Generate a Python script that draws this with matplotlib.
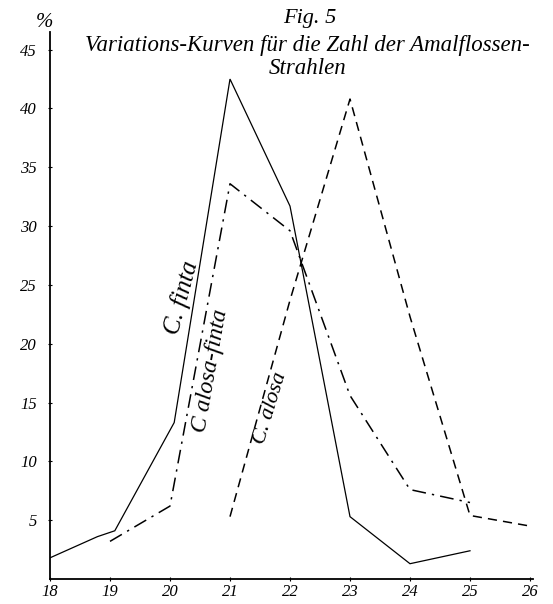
#!/usr/bin/env python3
# -*- coding: utf-8 -*-
# Fig. 5: Variations-Kurven fuer die Zahl der Analflossen-Strahlen

import matplotlib
matplotlib.use("Agg")
import matplotlib.pyplot as plt

# Strahlenzahl (x) und Prozent (y)
finta_x = [18, 18.79, 19.08, 20.07, 20.93, 21, 22, 23, 24, 25]
finta_y = [1.8, 3.6, 4.1, 13.3, 40.3, 42.5, 31.7, 5.3, 1.3, 2.4]

alosa_finta_x = [19, 20, 21, 22, 23, 24, 25]
alosa_finta_y = [3.2, 6.2, 33.6, 29.6, 15.6, 7.6, 6.5]

alosa_x = [21, 22, 23, 24, 25, 26]
alosa_y = [5.3, 23.7, 40.8, 22.3, 5.4, 4.5]

x_ticks = [18, 19, 20, 21, 22, 23, 24, 25, 26]
y_ticks = [5, 10, 15, 20, 25, 30, 35, 40, 45]

W, H = 553, 604
fig = plt.figure(figsize=(W / 100, H / 100), dpi=100)
ax = fig.add_axes([50 / W, 25 / H, 483 / W, 547 / H])

ax.plot(finta_x, finta_y, color="black", lw=0.9, solid_joinstyle="miter")
ax.plot(alosa_finta_x, alosa_finta_y, color="black", lw=1.1,
        dashes=(9, 4, 1.5, 4))
ax.plot(alosa_x, alosa_y, color="black", lw=1.1, dashes=(6, 4))

ax.set_xlim(18, 26.05)
ax.set_ylim(0, 46.5)
ax.spines["top"].set_visible(False)
ax.spines["right"].set_visible(False)
ax.spines["left"].set_linewidth(1.3)
ax.spines["bottom"].set_linewidth(1.3)

schrift = {"family": "Liberation Serif", "style": "italic"}
ax.set_xticks(x_ticks)
ax.set_xticklabels([str(v) for v in x_ticks], fontdict=schrift, fontsize=12)
ax.set_yticks(y_ticks)
ax.set_yticklabels([str(v) for v in y_ticks], fontdict=schrift, fontsize=12)
ax.tick_params(axis="both", direction="inout", length=3, width=0.8)
ax.tick_params(axis="x", pad=2)
ax.tick_params(axis="y", pad=8)

# Prozentzeichen oben an der Achse
ax.text(-0.012, 1.0, "%", transform=ax.transAxes, fontdict=schrift,
        fontsize=15, ha="center", va="bottom")

# Titel
fig.text(310 / W, 1 - 18 / H, "Fig. 5", fontdict=schrift, fontsize=16,
         ha="center", va="center")
fig.text(307 / W, 1 - 45 / H, "Variations-Kurven für die Zahl der Amalflossen-",
         fontdict=schrift, fontsize=16.5, ha="center", va="center")
fig.text(308 / W, 1 - 69 / H, "Strahlen", fontdict=schrift, fontsize=16.5,
         ha="center", va="center")

# Kurvennamen, schraeg an den Linien
ax.text(20.19, 23.9, "C. finta", fontdict=schrift, fontsize=18,
        rotation=75, ha="center", va="center")
ax.text(20.68, 17.7, "C alosa-finta", fontdict=schrift, fontsize=17,
        rotation=80, ha="center", va="center")
ax.text(21.68, 14.5, "C. alosa", fontdict=schrift, fontsize=16,
        rotation=73, ha="center", va="center")

fig.savefig("out.png", dpi=100, facecolor="white")
